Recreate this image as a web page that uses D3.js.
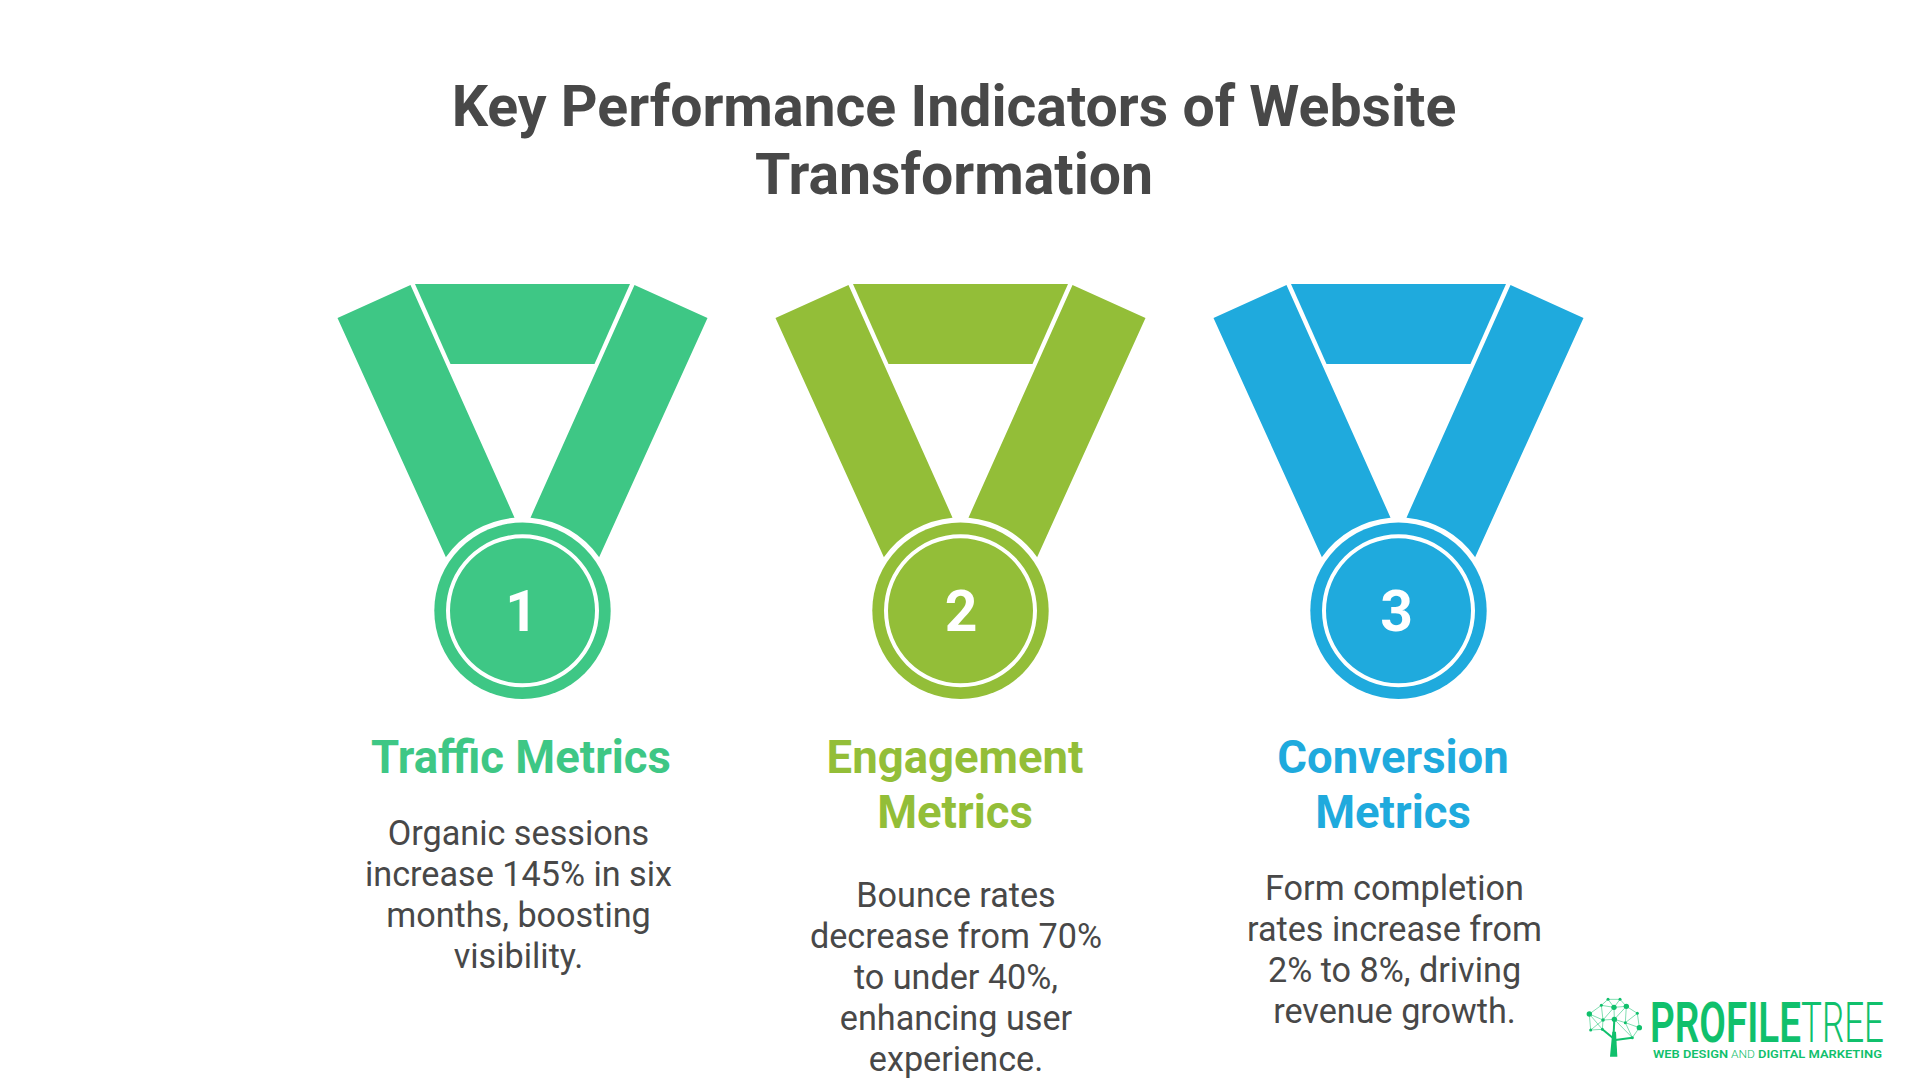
<!DOCTYPE html>
<html>
<head>
<meta charset="utf-8">
<title>Key Performance Indicators of Website Transformation</title>
<script src="https://cdn.jsdelivr.net/npm/d3@7"></script>
<style>
  html, body { margin: 0; padding: 0; background: #fff; }
  svg { display: block; }
  text { font-family: Roboto, sans-serif; }
</style>
</head>
<body>
<div id="chart"></div>
<script>
// chart content
var titleLines = ["Key Performance Indicators of Website", "Transformation"];
var ranks = ["1", "2", "3"];
var headings = [["Traffic Metrics"], ["Engagement", "Metrics"], ["Conversion", "Metrics"]];
var descriptions = [
  ["Organic sessions", "increase 145% in six", "months, boosting", "visibility."],
  ["Bounce rates", "decrease from 70%", "to under 40%,", "enhancing user", "experience."],
  ["Form completion", "rates increase from", "2% to 8%, driving", "revenue growth."]
];
var colors = ["#3ec785", "#93be38", "#1faadd"];

// logo
var logoWords = ["PROFILE", "TREE"];
var logoTag = ["WEB DESIGN", "AND", "DIGITAL MARKETING"];

var width = 1920, height = 1080;
var textColor = "#484848", logoColor = "#10c06c";

var svg = d3.select("#chart").append("svg")
  .attr("width", width)
  .attr("height", height)
  .attr("viewBox", [0, 0, width, height]);

svg.append("rect").attr("width", width).attr("height", height).attr("fill", "#fff");

// title
svg.selectAll(".title")
  .data(titleLines)
  .join("text")
  .attr("class", "title")
  .attr("x", 954)
  .attr("y", (d, i) => 126 + i * 68)
  .attr("text-anchor", "middle")
  .attr("font-size", 57.2)
  .attr("font-weight", 700)
  .attr("fill", textColor)
  .text(d => d);

// medals
var medalX = d3.scalePoint().domain(ranks).range([522.5, 1398.5]);
var medalY = 610.8;
var digitShift = [-1, 0.5, -2];

var discArc = d3.arc().innerRadius(0).outerRadius(88.2).startAngle(0).endAngle(2 * Math.PI);
var ringArc = d3.arc().innerRadius(72.5).outerRadius(76.5).startAngle(0).endAngle(2 * Math.PI);

function strapPath(side) {
  var r = 93.5;
  var a0 = Math.atan2(-53.4, side * 76.5);
  var a1 = Math.atan2(-93.4, side * 8);
  var p = d3.path();
  p.moveTo(side * 112, -325.8);
  p.lineTo(side * 185, -292.8);
  p.lineTo(side * 76.5, -53.4);
  p.arc(0, 0, r, a0, a1, side < 0 ? false : true);
  p.closePath();
  return p.toString();
}

function yokePath() {
  var p = d3.path();
  p.moveTo(-107.5, -326.8);
  p.lineTo(107.5, -326.8);
  p.lineTo(72, -246.8);
  p.lineTo(-72, -246.8);
  p.closePath();
  return p.toString();
}

var medals = svg.selectAll(".medal")
  .data(ranks)
  .join("g")
  .attr("class", "medal")
  .attr("transform", d => `translate(${medalX(d)},${medalY})`);

medals.append("path").attr("d", strapPath(-1)).attr("fill", (d, i) => colors[i]);
medals.append("path").attr("d", strapPath(1)).attr("fill", (d, i) => colors[i]);
medals.append("path").attr("d", yokePath()).attr("fill", (d, i) => colors[i]);
medals.append("path").attr("d", discArc).attr("fill", (d, i) => colors[i]);
medals.append("path").attr("d", ringArc).attr("fill", "#fff");

medals.append("text")
  .attr("x", (d, i) => digitShift[i])
  .attr("y", 20.2)
  .attr("text-anchor", "middle")
  .attr("font-size", 57)
  .attr("font-weight", 700)
  .attr("fill", "#fff")
  .text(d => d);

// text columns
var headingX = [521, 955, 1393];
var bodyX = [518.5, 956, 1394.5];
var bodyY = [845, 907, 900];

headings.forEach((lines, c) => {
  svg.append("g").selectAll("text")
    .data(lines)
    .join("text")
    .attr("x", headingX[c])
    .attr("y", (d, i) => 773 + i * 55)
    .attr("text-anchor", "middle")
    .attr("font-size", 45.5)
    .attr("font-weight", 700)
    .attr("fill", colors[c])
    .text(d => d);
});

descriptions.forEach((lines, c) => {
  svg.append("g").selectAll("text")
    .data(lines)
    .join("text")
    .attr("x", bodyX[c])
    .attr("y", (d, i) => bodyY[c] + i * 41)
    .attr("text-anchor", "middle")
    .attr("font-size", 34.2)
    .attr("fill", textColor)
    .text(d => d);
});

// logo, tree drawn in its own small units
var logoPx = d3.scaleLinear().domain([0, 3]).range([0, 1]);
var logo = svg.append("g").attr("transform", "translate(1580,990)");

var treeNodes = [
  [84, 28, 1.5], [120, 28, 1.5], [64, 46, 1.5], [102, 52, 2.7], [139, 49, 2.7],
  [28, 72, 2.7], [172, 70, 1.5], [69, 90, 1.8], [103, 88, 2.7], [136, 98, 1.5],
  [178, 113, 2.7], [32, 120, 1.5], [67, 118, 1.5], [157, 143, 1.5]
];
var treeLinks = [
  [0, 1], [0, 2], [0, 3], [1, 3], [1, 4], [2, 3], [2, 5], [3, 4], [3, 8], [3, 7], [4, 6], [4, 8],
  [4, 9], [5, 7], [5, 11], [5, 12], [6, 9], [6, 10], [7, 8], [7, 11], [7, 12], [8, 9], [9, 10],
  [9, 13], [10, 13], [11, 12], [2, 7], [8, 13]
];
var treeBranches = [[100, 150, 103, 88], [106, 150, 67, 118], [106, 150, 157, 143]];

logo.selectAll(".link")
  .data(treeLinks)
  .join("line")
  .attr("x1", d => logoPx(treeNodes[d[0]][0]))
  .attr("y1", d => logoPx(treeNodes[d[0]][1]))
  .attr("x2", d => logoPx(treeNodes[d[1]][0]))
  .attr("y2", d => logoPx(treeNodes[d[1]][1]))
  .attr("stroke", logoColor)
  .attr("stroke-opacity", 0.75)
  .attr("stroke-width", 0.7);

logo.selectAll(".branch")
  .data(treeBranches)
  .join("line")
  .attr("x1", d => logoPx(d[0]))
  .attr("y1", d => logoPx(d[1]))
  .attr("x2", d => logoPx(d[2]))
  .attr("y2", d => logoPx(d[3]))
  .attr("stroke", logoColor)
  .attr("stroke-width", 2);

logo.selectAll(".node")
  .data(treeNodes)
  .join("circle")
  .attr("cx", d => logoPx(d[0]))
  .attr("cy", d => logoPx(d[1]))
  .attr("r", d => d[2])
  .attr("fill", logoColor);

logo.append("path")
  .attr("d", d3.line()([[97, 125], [108, 125], [112, 200], [90, 200]].map(d => [logoPx(d[0]), logoPx(d[1])])) + "Z")
  .attr("fill", logoColor);

// squeeze a logo word into the width it has in the picture
function fitWord(word, x, y, w, size, weight) {
  var t = svg.append("text")
    .attr("font-size", size)
    .attr("font-weight", weight)
    .attr("fill", logoColor)
    .text(word);
  var natural = t.node().getComputedTextLength();
  t.attr("transform", `translate(${x},${y}) scale(${w / natural},1)`);
}

fitWord(logoWords[0], 1650, 1042, 151, 55, 600);
fitWord(logoWords[1], 1801, 1042, 83, 55, 300);

fitWord(logoTag[0], 1653, 1058, 75, 11.7, 600);
fitWord(logoTag[1], 1731, 1058, 24, 11.7, 300);
fitWord(logoTag[2], 1758, 1058, 124, 11.7, 600);
</script>
</body>
</html>
